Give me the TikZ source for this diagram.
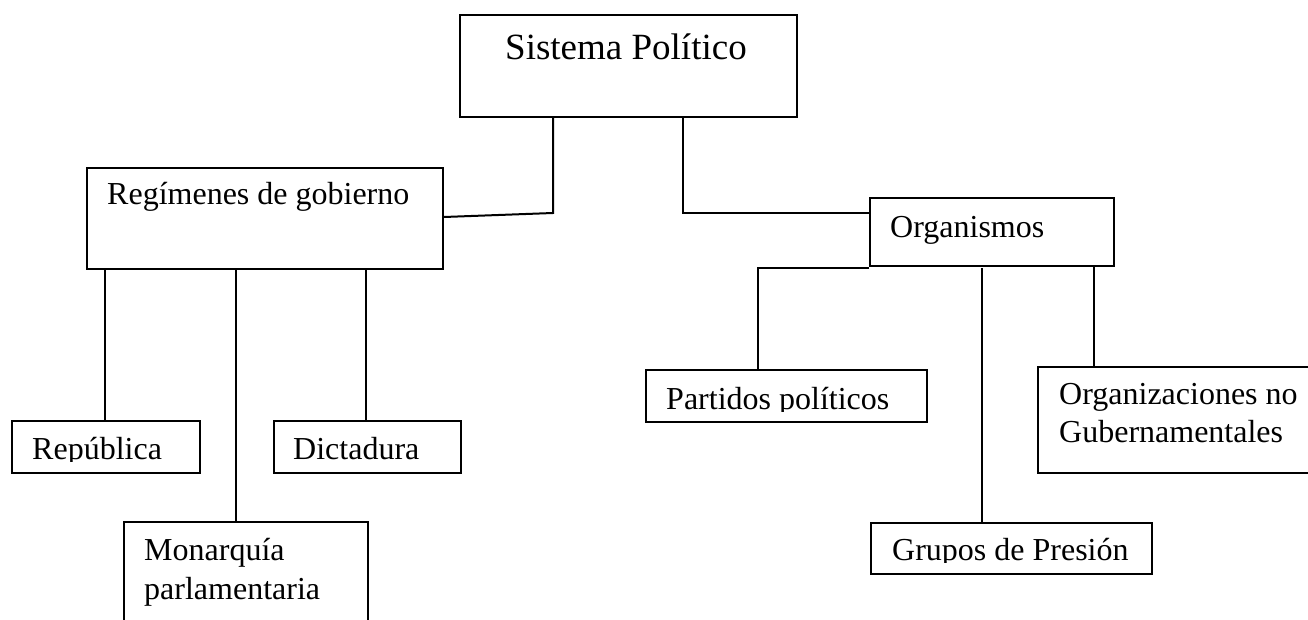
\documentclass[tikz,border=0pt]{standalone}
\usepackage{fontspec}
\setmainfont{Liberation Serif}
\begin{document}
\begin{tikzpicture}[x=1pt,y=-1pt,
  box/.style={draw=black, line width=2pt, rectangle, anchor=north west, inner sep=0pt},
  txt/.style={anchor=base west, inner sep=0pt, font=\fontsize{32}{38}\selectfont},
  bigtxt/.style={anchor=base west, inner sep=0pt, font=\fontsize{37}{44}\selectfont},
  conn/.style={draw=black, line width=2pt}]
\useasboundingbox (0,0) rectangle (1308,620);
\fill[white] (0,0) rectangle (1308,620);
% boxes
\node[box, minimum width=337pt, minimum height=102pt] (sis) at (459,14) {};
\node[box, minimum width=356pt, minimum height=101pt] (reg) at (86,167) {};
\node[box, minimum width=188pt, minimum height=52pt] (rep) at (11,420) {};
\node[box, minimum width=187pt, minimum height=52pt] (dic) at (273,420) {};
\node[box, minimum width=244pt, minimum height=120pt] (mon) at (123,521) {};
\node[box, minimum width=244pt, minimum height=68pt] (org) at (869,197) {};
\node[box, minimum width=281pt, minimum height=52pt] (par) at (645,369) {};
\node[box, minimum width=290pt, minimum height=106pt] (ong) at (1037,366) {};
\node[box, minimum width=281pt, minimum height=51pt] (gru) at (870,522) {};
% texts
\node[bigtxt] (sisT) at (505,60) {Sistema Político};
\node[txt] (regT) at (107,205) {Regímenes de gobierno};
\node[txt] (dicT) at (293,459) {Dictadura};
\node[txt] (monT1) at (144,560) {Monarquía};
\node[txt] (monT2) at (144,599) {parlamentaria};
\node[txt] (orgT) at (890,238) {Organismos};
\node[txt] (ongT1) at (1059,404) {Organizaciones no};
\node[txt] (ongT2) at (1059,442) {Gubernamentales};
\begin{scope}
  \clip (0,0) rectangle (1308,461);
  \node[txt] (repT) at (32,459) {República};
\end{scope}
\begin{scope}
  \clip (0,0) rectangle (1308,411);
  \node[txt] (parT) at (666,409) {Partidos políticos};
\end{scope}
\begin{scope}
  \clip (0,0) rectangle (1308,562);
  \node[txt] (gruT) at (892,560) {Grupos de Presión};
\end{scope}
% connectors
\coordinate (b1) at (553,213);
\coordinate (b2) at (683,213);
\coordinate (b3) at (758,268);
\draw[conn] (sis.south -| b1) -- (b1) -- (reg.east |- 0,217);
\draw[conn] (sis.south -| b2) -- (b2) -- (org.west |- b2);
\draw[conn] (reg.south -| 105,0) -- (rep.north -| 105,0);
\draw[conn] (reg.south -| 236,0) -- (mon.north -| 236,0);
\draw[conn] (reg.south -| 366,0) -- (dic.north -| 366,0);
\draw[conn] (org.west |- b3) -- (b3) -- (par.north -| b3);
\draw[conn] (982,268) -- (gru.north -| 982,0);
\draw[conn] (org.south -| 1094,0) -- (ong.north -| 1094,0);
\end{tikzpicture}
\end{document}
